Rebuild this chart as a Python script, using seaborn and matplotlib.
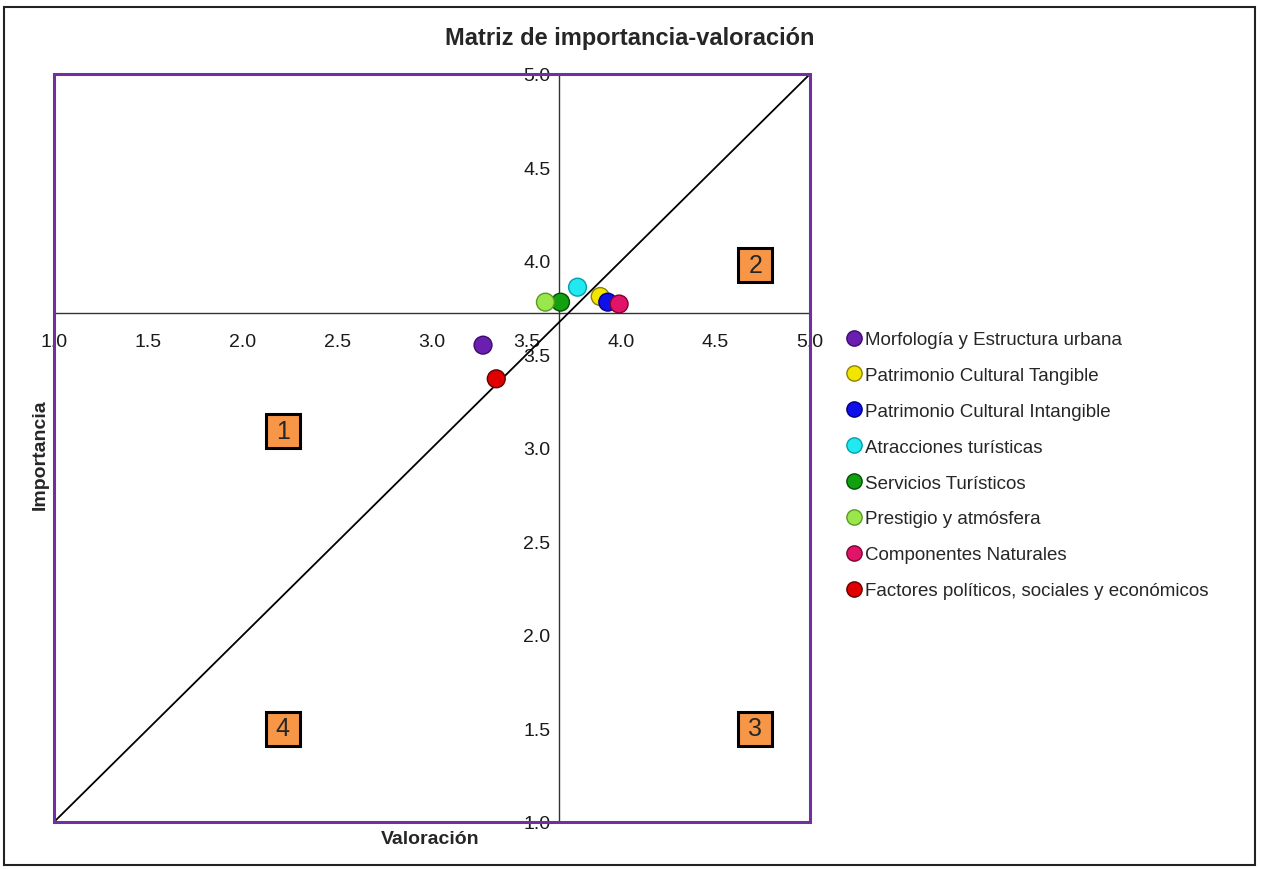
import matplotlib
matplotlib.use("Agg")
import matplotlib.pyplot as plt
from matplotlib.patches import Rectangle
import seaborn as sns
import pandas as pd

# data
factores = [
    "Morfología y Estructura urbana",
    "Patrimonio Cultural Tangible",
    "Patrimonio Cultural Intangible",
    "Atracciones turísticas",
    "Servicios Turísticos",
    "Prestigio y atmósfera",
    "Componentes Naturales",
    "Factores políticos, sociales y económicos",
]
valoracion = [3.27, 3.89, 3.93, 3.77, 3.68, 3.60, 3.99, 3.34]
importancia = [3.55, 3.81, 3.78, 3.86, 3.78, 3.78, 3.77, 3.37]
colores = ["#6A1FB0", "#F2E600", "#1010E8", "#22E8F0", "#10A010",
           "#99E64D", "#E0156A", "#E00000"]
bordes = ["#3C0A70", "#8C8200", "#000080", "#00A0B0", "#005000",
          "#5A9A20", "#800030", "#600000"]

# centre of the matrix (where the axes cross)
cruce_x = 3.67
cruce_y = 3.72

cuadrantes = ["1", "2", "3", "4"]
cuad_x = [2.21, 4.71, 4.71, 2.21]
cuad_y = [3.09, 3.98, 1.50, 1.50]

ticks = [1.0, 1.5, 2.0, 2.5, 3.0, 3.5, 4.0, 4.5, 5.0]

sns.set_style("white")
plt.rcParams["font.family"] = ["Liberation Sans", "DejaVu Sans"]

df = pd.DataFrame({"Factor": factores, "Valoración": valoracion,
                   "Importancia": importancia})

fig = plt.figure(figsize=(12.61, 8.70), dpi=100)
ax = fig.add_axes([54 / 1261, 1 - 823 / 870, 756 / 1261, 748 / 870])

sns.scatterplot(data=df, x="Valoración", y="Importancia", hue="Factor",
                hue_order=factores, palette=colores, s=165,
                linewidth=1.0, ax=ax, zorder=4)
ax.collections[0].set_edgecolors(bordes)

# diagonal
ax.plot([1, 5], [1, 5], color="black", lw=1.3, zorder=3)

ax.set_xlim(1, 5)
ax.set_ylim(1, 5)
ax.set_xticks(ticks)
ax.set_yticks(ticks)
ax.set_xticklabels([f"{t:.1f}" for t in ticks])
ax.set_yticklabels([f"{t:.1f}" for t in ticks])

ax.spines["left"].set_position(("data", cruce_x))
ax.spines["bottom"].set_position(("data", cruce_y))
ax.spines["right"].set_visible(False)
ax.spines["top"].set_visible(False)
for s in ["left", "bottom"]:
    ax.spines[s].set_color("#333333")
    ax.spines[s].set_linewidth(1.0)
ax.tick_params(axis="both", length=0, labelsize=14, colors="#1a1a1a")
ax.tick_params(axis="x", pad=14)
ax.tick_params(axis="y", pad=6)

# purple frame around the plot area
ax.add_patch(Rectangle((0, 0), 1, 1, transform=ax.transAxes, fill=False,
                       edgecolor="#7030A0", lw=2.2, zorder=5, clip_on=False))

ax.set_xlabel("")
ax.set_ylabel("")
fig.text(430 / 1261, 1 - 840 / 870, "Valoración", ha="center", va="center",
         fontsize=14, fontweight="bold")
fig.text(40 / 1261, 1 - 455 / 870, "Importancia", ha="center", va="center",
         rotation=90, fontsize=14, fontweight="bold")
fig.text(630 / 1261, 1 - 38 / 870, "Matriz de importancia-valoración",
         ha="center", va="center", fontsize=17, fontweight="bold")

# quadrant labels: orange square boxes
ax.plot(cuad_x, cuad_y, linestyle="none", marker="s", markersize=25,
        markerfacecolor="#F79646", markeredgecolor="black",
        markeredgewidth=2.2, zorder=6)
for lab, qx, qy in zip(cuadrantes, cuad_x, cuad_y):
    ax.text(qx, qy, lab, ha="center", va="center", fontsize=18, zorder=7)

sns.move_legend(ax, "upper left", bbox_to_anchor=(845 / 1261, 1 - 332 / 870),
                bbox_transform=fig.transFigure, frameon=False, title=None,
                fontsize=13.5, labelspacing=1.0, handletextpad=0.05,
                handlelength=1.0, borderaxespad=0, borderpad=0)
for h, b in zip(ax.get_legend().legend_handles, bordes):
    h.set_markersize(11)
    h.set_markeredgecolor(b)

# outer border of the picture
fig.patches.append(Rectangle((4 / 1261, 4 / 870), 1251 / 1261, 858 / 870,
                             transform=fig.transFigure, fill=False,
                             edgecolor="#222222", lw=1.5))

fig.savefig("out.png", dpi=100)
